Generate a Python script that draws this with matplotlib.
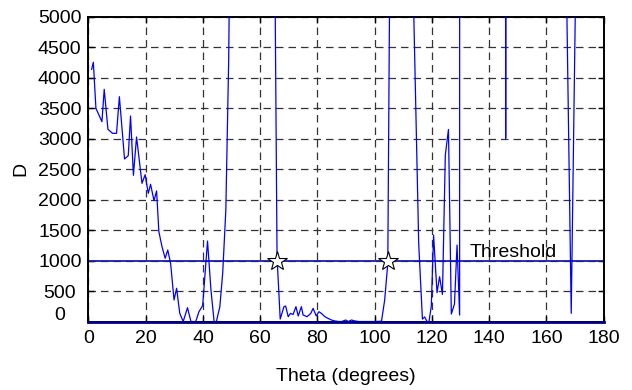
import matplotlib
matplotlib.use("Agg")
import matplotlib.pyplot as plt
import matplotlib.transforms as mtransforms
import numpy as np

# ---- data ----
theta = [1.1, 1.7, 2.6, 4.7, 5.5, 6.8, 8.4, 9.8, 10.8, 12.6, 13.9, 14.7, 15.7, 16.8,
         18.7, 19.8, 20.9, 21.7, 22.9, 23.8, 24.6, 25.7, 26.8, 27.7, 28.7, 29.9, 30.8,
         31.9, 33.1, 34.6, 35.8, 37.5, 38.6, 39.9, 41.6, 42.8, 43.9, 44.7, 45.9, 46.9,
         48.0, 49.0, 50.0, 55.0, 60.0, 64.0, 65.0, 65.9, 67.0, 68.3, 68.9, 69.8, 70.6,
         71.5, 72.5, 73.3, 74.4, 75.0, 76.4, 77.7, 78.5, 79.6, 80.5, 81.4, 82.6, 83.7,
         84.9, 86.0, 87.5, 88.5, 89.9, 90.8, 91.9, 93.0, 94.5, 96.0, 98.0, 100.0, 102.4,
         103.5, 104.6, 105.6, 107.0, 110.0, 113.0, 115.4, 116.7, 117.5, 118.3, 119.0,
         119.8, 120.6, 121.8, 122.7, 123.7, 124.7, 125.8, 126.8, 127.9, 128.8, 129.7,
         130.5, 138.0, 145.0, 145.8, 146.6, 155.0, 166.7, 168.7, 170.6, 175.0, 180.0]
D = [4137, 4252, 3497, 3278, 3809, 3153, 3087, 3087, 3688, 2666, 2720, 3371, 2398, 3027,
     2267, 2408, 2103, 2250, 1982, 2141, 1473, 1227, 1037, 1173, 955, 353, 545,
     134, 0, 227, 0, 0, 161, 260, 1320, 517, 0, 0, 243, 790,
     1829, 4300, 9000, 80000, 80000, 20000, 6700, 1050, 40, 243, 254, 79, 134,
     115, 243, 90, 243, 107, 79, 134, 216, 90, 161, 134, 79, 52,
     25, 10, 0, 0, 25, 0, 25, 10, 0, 0, 0, 0, 5,
     350, 950, 8000, 50000, 50000, 6530, 1280, 40, 75, 0, 0,
     250, 1418, 473, 734, 445, 2730, 3150, 123, 287, 1254, 107,
     300000, 300000, 1000000, 3005, 1000000, 300000, 6620, 134, 6740, 50000, 50000]
threshold = 1000
cross_theta = [65.9, 104.7]
cross_D = [1000, 1000]
xticks = list(range(0, 181, 20))
yticks = list(range(0, 5001, 500))

plt.rcParams['font.family'] = ['Liberation Sans', 'DejaVu Sans']

fig = plt.figure(figsize=(6.32, 3.90), dpi=100)
ax = fig.add_axes([0.140, 0.1756, 0.815, 0.7816])

ax.plot(theta, D, color='#0000ff', lw=0.9, zorder=3)
ax.plot([0, 180], [0, 0], color='#000080', lw=2.0, zorder=4, clip_on=False)
ax.axhline(threshold, color='#1a1aa8', lw=1.3, zorder=2)
ax.plot(cross_theta, cross_D, linestyle='none', marker='*', markersize=15,
        markerfacecolor='white', markeredgecolor='black', markeredgewidth=0.8, zorder=5)
ax.text(133.3, 1060, 'Threshold', fontsize=14, va='baseline', ha='left', zorder=6)

ax.set_xlim(0, 180)
ax.set_ylim(0, 5000)
ax.set_xticks(xticks)
ax.set_yticks(yticks)
ax.grid(True, color='#333333', linestyle=(0, (6, 4)), lw=0.9, zorder=1)
ax.set_axisbelow(True)
ax.tick_params(direction='in', length=4, width=1, labelsize=14, top=True, right=True)
ax.tick_params(axis='x', pad=6)
ax.tick_params(axis='y', pad=5)
for sp in ax.spines.values():
    sp.set_linewidth(1.4)

# reproduce the odd offsets of the lowest y labels
labs = ax.get_yticklabels()
off500 = mtransforms.ScaledTranslation(-6 / 100, 0, fig.dpi_scale_trans)
off0 = mtransforms.ScaledTranslation(-16 / 100, 8 / 100, fig.dpi_scale_trans)
labs[1].set_transform(labs[1].get_transform() + off500)
labs[0].set_transform(labs[0].get_transform() + off0)

ax.set_xlabel('Theta (degrees)', fontsize=14, labelpad=15)
ax.set_ylabel('D', fontsize=14, labelpad=6)

fig.savefig('out.png', dpi=100)
